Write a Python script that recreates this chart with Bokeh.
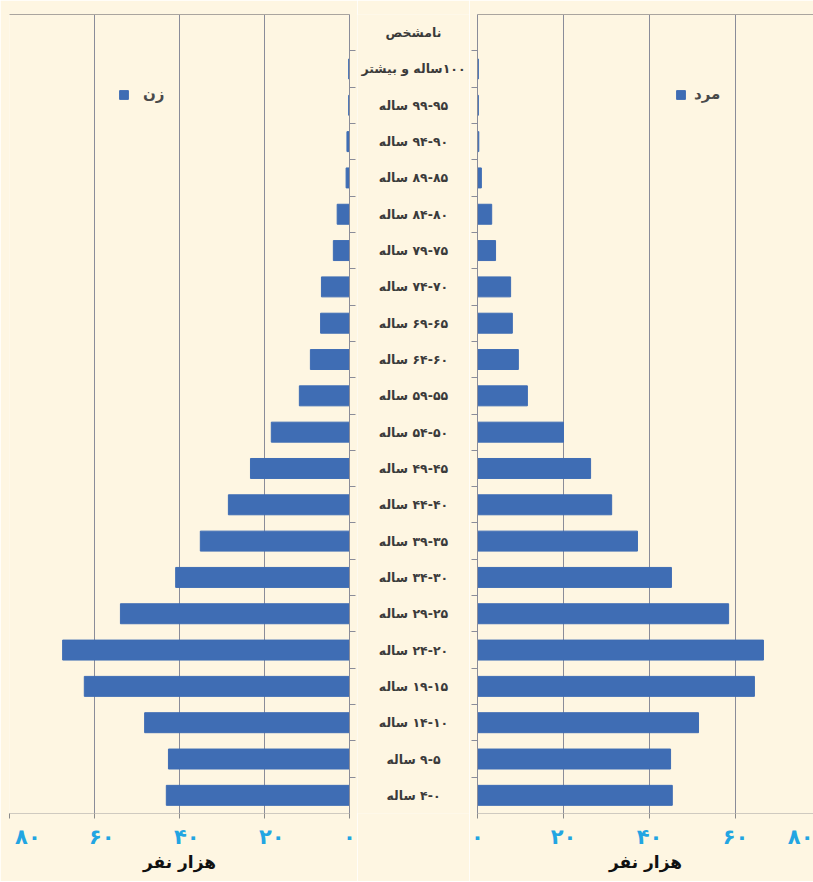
from bokeh.plotting import figure
from bokeh.layouts import row
from bokeh.models import (FactorRange, Range1d, FixedTicker, LinearAxis, CategoricalAxis,
                          Legend, LegendItem, CustomJSTickFormatter)
from bokeh.core.properties import value
from bokeh.embed import file_html
from bokeh.resources import INLINE

# ---------------- data (top -> bottom as in the picture) ----------------
ages = ["نامشخص", "۱۰۰ساله و بیشتر", "۹۵-۹۹ ساله", "۹۰-۹۴ ساله", "۸۵-۸۹ ساله",
        "۸۰-۸۴ ساله", "۷۵-۷۹ ساله", "۷۰-۷۴ ساله", "۶۵-۶۹ ساله", "۶۰-۶۴ ساله",
        "۵۵-۵۹ ساله", "۵۰-۵۴ ساله", "۴۵-۴۹ ساله", "۴۰-۴۴ ساله", "۳۵-۳۹ ساله",
        "۳۰-۳۴ ساله", "۲۵-۲۹ ساله", "۲۰-۲۴ ساله", "۱۵-۱۹ ساله", "۱۰-۱۴ ساله",
        "۵-۹ ساله", "۰-۴ ساله"]
women = [0, 0.2, 0.2, 0.6, 0.8, 2.9, 3.8, 6.6, 6.8, 9.2, 11.8, 18.4, 23.3, 28.5,
         35.1, 40.9, 53.9, 67.5, 62.4, 48.2, 42.6, 43.1]
men = [0, 0.2, 0.2, 0.3, 0.9, 3.3, 4.2, 7.7, 8.1, 9.5, 11.6, 20.0, 26.3, 31.2,
       37.2, 45.1, 58.4, 66.5, 64.4, 51.4, 44.9, 45.3]
tick_values = [0, 20, 40, 60, 80]
tick_labels = ["۰", "۲۰", "۴۰", "۶۰", "۸۰"]
legend_women = "زن"
legend_men = "مرد"
axis_title = "هزار نفر"

# ---------------- styling ----------------
BG = "#fef6e2"
BAR = "#3f6db4"
GRID = "#8a8c99"
FONT = "DejaVu Sans"
TICK_COLOR = "#22a5e2"

FH = 799
TOP = 14
BOTTOM = 68

# display labels: RLM prefix + non-joining hyphen so the text reads right-to-left
display = ["\u200f" + a.replace("-", "\u2010") for a in ages]
y_range = FactorRange(factors=list(reversed(ages)))
n_cat = len(ages)
nb = "\u00a0"


def side_fig(x_range, fw, left_b, right_b, tvals, labels):
    p = figure(x_range=x_range, y_range=y_range, frame_width=fw, frame_height=FH,
               min_border=0, min_border_left=left_b, min_border_right=right_b,
               min_border_top=TOP, min_border_bottom=BOTTOM,
               toolbar_location=None, output_backend="svg",
               y_axis_location=None, x_axis_location="below")
    p.background_fill_color = BG
    p.border_fill_color = BG
    p.outline_line_color = None
    p.ygrid.grid_line_color = None
    p.xgrid.grid_line_color = GRID
    p.xgrid.grid_line_width = 1
    ax = p.xaxis[0]
    ax.ticker = FixedTicker(ticks=tvals)
    ax.formatter = CustomJSTickFormatter(
        args=dict(tvals=tvals, tlabels=labels),
        code="const i = tvals.indexOf(tick); return i >= 0 ? tlabels[i] : '';")
    ax.axis_line_color = "#cfcac0"
    ax.major_tick_line_color = "#8a8a8a"
    ax.major_tick_out = 5
    ax.major_tick_in = 0
    ax.minor_tick_line_color = None
    ax.major_label_text_font = FONT
    ax.major_label_text_font_style = "bold"
    ax.major_label_text_font_size = "21px"
    ax.major_label_text_color = TICK_COLOR
    ax.major_label_standoff = 6
    ax.axis_label = axis_title
    ax.axis_label_text_font = FONT
    ax.axis_label_text_font_style = "bold"
    ax.axis_label_text_font_size = "17px"
    ax.axis_label_text_color = "#111111"
    ax.axis_label_standoff = 0
    # top border line
    top = LinearAxis(ticker=FixedTicker(ticks=[]), axis_line_color="#aaa59f",
                     major_tick_out=0, major_tick_in=0, major_label_standoff=0,
                     major_label_text_color=None, minor_tick_line_color=None)
    p.add_layout(top, "above")
    # boundary ticks on the centre side: one factor per category boundary,
    # shifted by half a category so the ticks fall between the bars
    p.extra_y_ranges = {"idx": FactorRange(factors=[str(i) for i in range(n_cat + 1)],
                                           range_padding=-0.5,
                                           range_padding_units="absolute")}
    return p


def boundary_axis():
    return CategoricalAxis(y_range_name="idx", axis_line_color=GRID,
                           major_tick_line_color=GRID, major_tick_out=6, major_tick_in=0,
                           major_label_standoff=0, major_label_text_color=None,
                           minor_tick_line_color=None)


# ---------------- left panel (women) ----------------
left_labels = [(nb * 2 + t) if v else t for v, t in zip(tick_values, tick_labels)]
left = side_fig(Range1d(80, 0), 340, 9, 8, tick_values, left_labels)
left.xgrid.ticker = FixedTicker(ticks=[20, 40, 60, 80])
rw = left.hbar(y=ages, left=0, right=women, height=0.55, color=BAR)
left.add_layout(boundary_axis(), "right")
lg_l = Legend(items=[LegendItem(label=legend_women, renderers=[rw])], location=(109, 710),
              glyph_width=11, glyph_height=11, label_standoff=14, padding=0, margin=0,
              border_line_color=None, background_fill_alpha=0,
              label_text_font=FONT, label_text_font_style="bold",
              label_text_font_size="15px", label_text_color="#4a4a4a")
left.add_layout(lg_l)

# ---------------- centre labels ----------------
center = figure(x_range=Range1d(-1, 1), y_range=y_range, frame_width=112, frame_height=FH,
                min_border=0, min_border_top=TOP, min_border_bottom=BOTTOM,
                toolbar_location=None, output_backend="svg",
                x_axis_location=None, y_axis_location=None)
center.background_fill_color = BG
center.border_fill_color = BG
center.outline_line_color = None
center.grid.grid_line_color = None
center.text(x=0, y=ages, text=display, text_align="center", text_baseline="middle",
            text_font=value(FONT), text_font_style="bold", text_font_size="12.5px",
            text_color="#3b3b3b")

# ---------------- right panel (men) ----------------
RW = 336
x_end = RW / 4.3
# the 80 tick lies just beyond the visible edge; its label is kept at the edge
right_ticks = tick_values[:-1] + [x_end * 0.9995]
right = side_fig(Range1d(0, x_end), RW, 8, 0, right_ticks, tick_labels)
right.xgrid.ticker = FixedTicker(ticks=[20, 40, 60])
rm = right.hbar(y=ages, left=0, right=men, height=0.55, color=BAR)
right.add_layout(boundary_axis(), "left")
lg_r = Legend(items=[LegendItem(label=legend_men, renderers=[rm])], location=(198, 710),
              glyph_width=11, glyph_height=11, label_standoff=8, padding=0, margin=0,
              border_line_color=None, background_fill_alpha=0,
              label_text_font=FONT, label_text_font_style="bold",
              label_text_font_size="15px", label_text_color="#4a4a4a")
right.add_layout(lg_r)

layout = row(left, center, right)
open("out.html", "w").write(file_html(layout, INLINE))
